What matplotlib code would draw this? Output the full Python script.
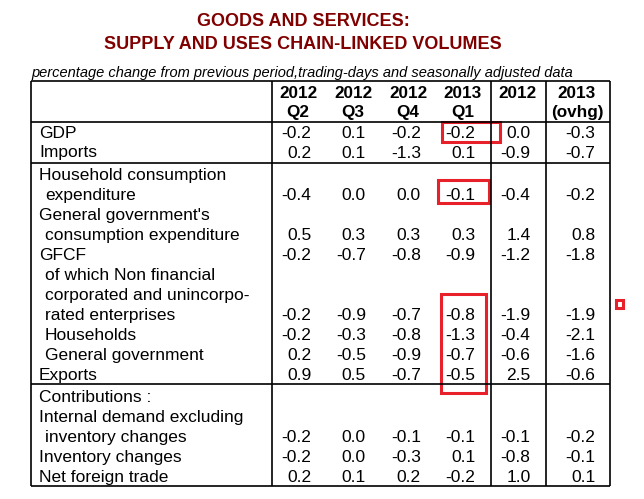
import matplotlib
matplotlib.use("Agg")
import matplotlib.pyplot as plt
from matplotlib.patches import Rectangle

# ---- data ----
row_labels = [
    "GDP",
    "Imports",
    "Household consumption\n expenditure",
    "General government's\n consumption expenditure",
    "GFCF",
    " of which Non financial\n corporated and unincorpo-\n rated enterprises",
    " Households",
    " General government",
    "Exports",
    "Contributions :",
    "Internal demand excluding\n inventory changes",
    "Inventory changes",
    "Net foreign trade",
]
col_top = ["2012", "2012", "2012", "2013", "2012", "2013"]
col_bottom = ["Q2", "Q3", "Q4", "Q1", "", "(ovhg)"]

q2_2012 = [-0.2, 0.2, -0.4, 0.5, -0.2, -0.2, -0.2, 0.2, 0.9, None, -0.2, -0.2, 0.2]
q3_2012 = [0.1, 0.1, 0.0, 0.3, -0.7, -0.9, -0.3, -0.5, 0.5, None, 0.0, 0.0, 0.1]
q4_2012 = [-0.2, -1.3, 0.0, 0.3, -0.8, -0.7, -0.8, -0.9, -0.7, None, -0.1, -0.3, 0.2]
q1_2013 = [-0.2, 0.1, -0.1, 0.3, -0.9, -0.8, -1.3, -0.7, -0.5, None, -0.1, 0.1, -0.2]
year_2012 = [0.0, -0.9, -0.4, 1.4, -1.2, -1.9, -0.4, -0.6, 2.5, None, -0.1, -0.8, 1.0]
ovhg_2013 = [-0.3, -0.7, -0.2, 0.8, -1.8, -1.9, -2.1, -1.6, -0.6, None, -0.2, -0.1, 0.1]
columns = [q2_2012, q3_2012, q4_2012, q1_2013, year_2012, ovhg_2013]

section_starts = [2, 9]          # rows that open a new block

# ---- layout (pixel coordinates) ----
W, H = 644, 499
body_font = ["Liberation Sans", "DejaVu Sans"]
val_right = [311.5, 366, 421, 475.5, 530.5, 595.5]
head_center = [298, 353, 408, 463, 517, 577]
vlines = [31, 271.7, 490.7, 545.7, 610]
line_h = 20.0
label_x = 39
fs = 12.5
base = 6.0   # cap-centre to baseline offset

fig = plt.figure(figsize=(W / 100, H / 100), dpi=100)
ax = fig.add_axes([0, 0, 1, 1])
ax.set_xlim(0, W)
ax.set_ylim(H, 0)
ax.axis("off")

ax.text(303, 19 + 6.7, "GOODS AND SERVICES:", ha="center", va="baseline",
        fontsize=13, fontweight="bold", color="#800000", family=body_font)
ax.text(303, 42 + 6.7, "SUPPLY AND USES CHAIN-LINKED VOLUMES", ha="center", va="baseline",
        fontsize=13, fontweight="bold", color="#800000", family=body_font)
ax.text(31, 71.5 + 5, "percentage change from previous period,trading-days and seasonally adjusted data",
        ha="left", va="baseline", fontsize=10.5, style="italic", family=body_font)

# header
for j in range(len(col_top)):
    ax.text(head_center[j], 92 + base, col_top[j], ha="center", va="baseline",
            fontsize=12.3, fontweight="bold", family=body_font)
    ax.text(head_center[j], 111 + base, col_bottom[j], ha="center", va="baseline",
            fontsize=12.3, fontweight="bold", family=body_font)

# body rows
y = 131.5
hlines = [80.7, 121.7]
for i, lab in enumerate(row_labels):
    if i in section_starts:
        hlines.append(y - 10 + (1.5 if i == 2 else 0))
        y += 2.5 if i == 2 else 2
    lines = lab.split("\n")
    for k, ln in enumerate(lines):
        x = label_x
        if ln.startswith(" "):
            x = label_x + 6
            ln = ln[1:]
        ax.text(x, y + base, ln, ha="left", va="baseline", fontsize=fs, family=body_font)
        if k < len(lines) - 1:
            y += line_h
    for j, col in enumerate(columns):
        v = col[i]
        if v is not None:
            ax.text(val_right[j], y + base, f"{v:.1f}", ha="right", va="baseline",
                    fontsize=fs, family=body_font)
    y += line_h
hlines.append(486)

for hy in hlines:
    ax.plot([vlines[0], vlines[-1]], [hy, hy], color="black", lw=1.2,
            solid_capstyle="butt")
for vx in vlines:
    ax.plot([vx, vx], [80.7, 486], color="black", lw=1.2, solid_capstyle="butt")

# red highlight boxes
red = "#e8202a"
boxes = [(442.5, 500, 121.5, 141.5), (438.5, 489, 180, 203), (441, 486.5, 293.5, 392.5)]
for (x0, x1, y0, y1) in boxes:
    ax.add_patch(Rectangle((x0, y0), x1 - x0, y1 - y0, fill=False,
                           edgecolor=red, lw=2.2))
ax.add_patch(Rectangle((616, 300), 7.5, 7.5, fill=False, edgecolor=red, lw=2.2))

fig.savefig("out.png", dpi=100)
